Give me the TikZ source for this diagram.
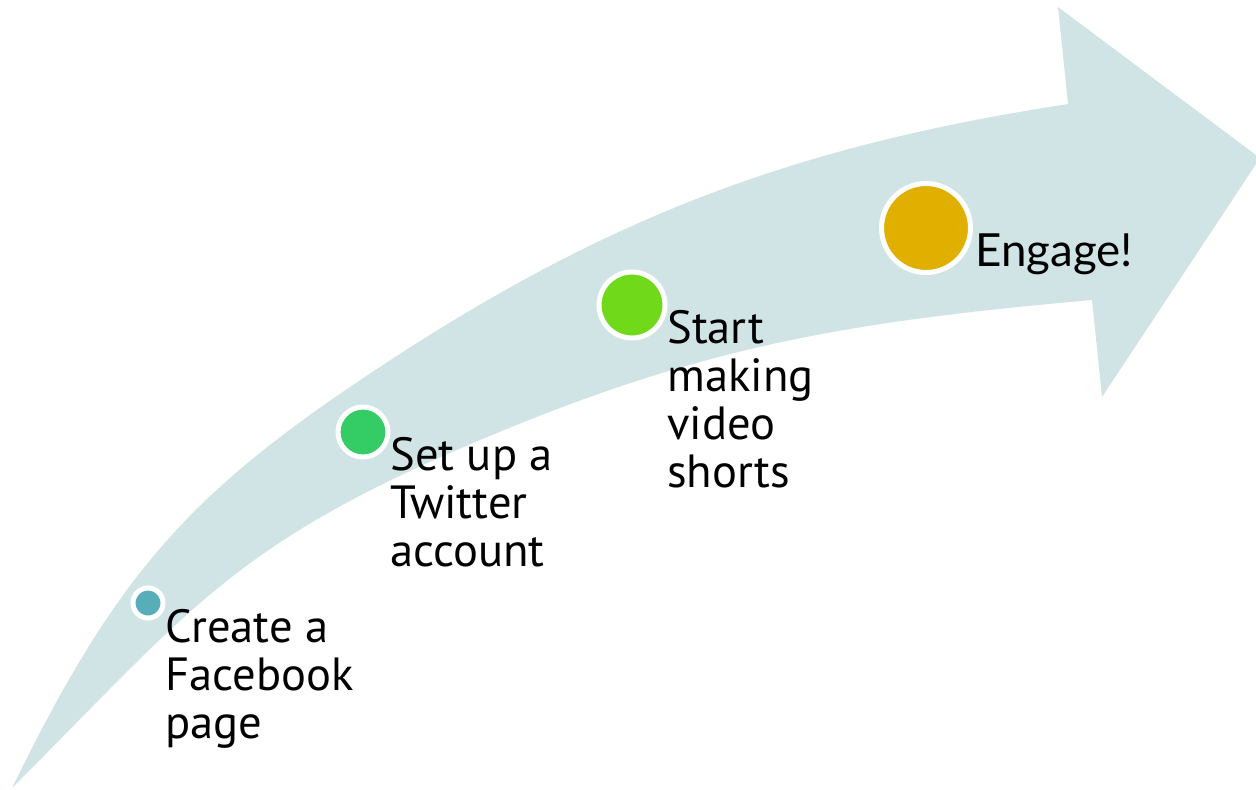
\documentclass[tikz,border=0pt]{standalone}
\usepackage{fontspec}
\setmainfont{PT Sans}
\newfontfamily\latofont{Lato}
\usetikzlibrary{shapes, positioning}

\definecolor{bandfill}{RGB}{209,228,229}
\definecolor{dotteal}{RGB}{88,174,184}
\definecolor{dotgreen}{RGB}{52,204,100}
\definecolor{dotlime}{RGB}{111,217,26}
\definecolor{dotgold}{RGB}{224,175,0}

\tikzset{
  dot/.style={circle, draw=white, line width=0.1cm, inner sep=0pt},
  steplabel/.style={anchor=base west, align=left, inner sep=0pt, font=\fontsize{26.5}{27.3}\selectfont}
}

\begin{document}
\begin{tikzpicture}[x=0.02cm, y=-0.02cm]
            \useasboundingbox (0,0) rectangle (1256,789);

            % Curved arrow
            \fill[bandfill] (12,788) .. controls (113,581) and (185,499) .. (350,387)
                .. controls (590,224) and (781,148) .. (1068,104)
                -- (1058,7) -- (1260,158) -- (1102,397) -- (1092,300)
                .. controls (833,323) and (688,349) .. (450,453)
                .. controls (230,549) and (182,618) .. (12,788) -- cycle;

            % Milestones (label base = last line)
            \node[dot, fill=dotteal, minimum size=0.6cm] (d1) at (148,603) {};
            \node[steplabel] (s1) at (165,738) {Create a\\Facebook\\page};

            \node[dot, fill=dotgreen, minimum size=1.0cm] (d2) at (363,432) {};
            \node[steplabel] (s2) at (390,566) {Set up a\\Twitter\\account};

            \node[dot, fill=dotlime, minimum size=1.32cm] (d3) at (632,305) {};
            \node[steplabel] (s3) at (667,487) {Start\\making\\video\\shorts};

            \node[dot, fill=dotgold, minimum size=1.78cm] (d4) at (926,228) {};
            \node[steplabel, font=\latofont\fontsize{26}{27.3}\selectfont] (s4) at (975,266) {Engage!};
        \end{tikzpicture}
\end{document}
